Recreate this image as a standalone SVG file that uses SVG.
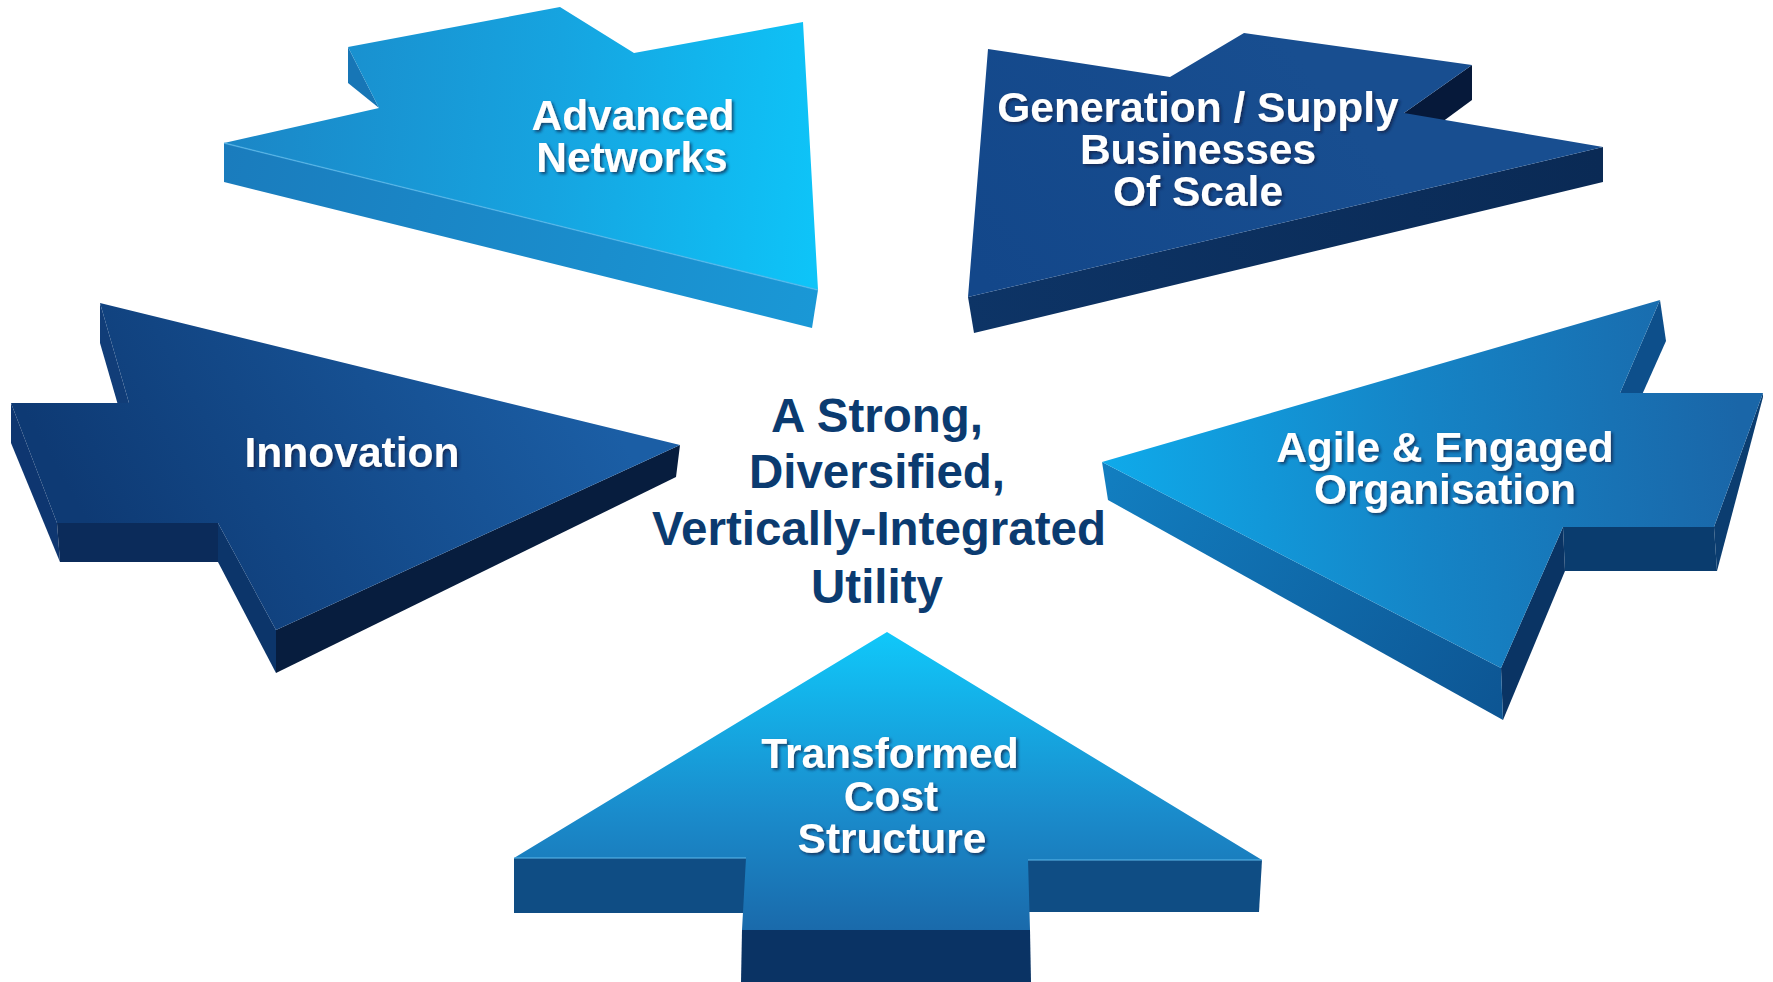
<svg xmlns="http://www.w3.org/2000/svg" width="1773" height="982" viewBox="0 0 1773 982">
<defs>
<linearGradient id="gAdv" gradientUnits="userSpaceOnUse" x1="224" y1="150" x2="818" y2="200">
<stop offset="0" stop-color="#1b86c6"/><stop offset="0.55" stop-color="#16a4e0"/><stop offset="1" stop-color="#0ec4f8"/>
</linearGradient>
<linearGradient id="gAdvSide" gradientUnits="userSpaceOnUse" x1="224" y1="160" x2="818" y2="310">
<stop offset="0" stop-color="#1a7cbd"/><stop offset="1" stop-color="#1a98d6"/>
</linearGradient>
<linearGradient id="gInno" gradientUnits="userSpaceOnUse" x1="560" y1="330" x2="120" y2="580">
<stop offset="0" stop-color="#1b5ea5"/><stop offset="1" stop-color="#0e3a74"/>
</linearGradient>
<linearGradient id="gGen" gradientUnits="userSpaceOnUse" x1="1300" y1="60" x2="1000" y2="300">
<stop offset="0" stop-color="#184e90"/><stop offset="1" stop-color="#13478a"/>
</linearGradient>
<linearGradient id="gGenSide" gradientUnits="userSpaceOnUse" x1="970" y1="320" x2="1600" y2="160">
<stop offset="0" stop-color="#0d3466"/><stop offset="1" stop-color="#0a2a55"/>
</linearGradient>
<linearGradient id="gAgile" gradientUnits="userSpaceOnUse" x1="1102" y1="462" x2="1740" y2="420">
<stop offset="0" stop-color="#0faaea"/><stop offset="0.5" stop-color="#1584c6"/><stop offset="1" stop-color="#1a66a8"/>
</linearGradient>
<linearGradient id="gAgileSide" gradientUnits="userSpaceOnUse" x1="1102" y1="480" x2="1503" y2="700">
<stop offset="0" stop-color="#127ec0"/><stop offset="1" stop-color="#0d5694"/>
</linearGradient>
<linearGradient id="gTrans" gradientUnits="userSpaceOnUse" x1="0" y1="632" x2="0" y2="930">
<stop offset="0" stop-color="#10c8fa"/><stop offset="0.6" stop-color="#1a8ccc"/><stop offset="1" stop-color="#1a6aab"/>
</linearGradient>
<filter id="sh" x="-10%" y="-20%" width="120%" height="150%">
<feDropShadow dx="2" dy="2" stdDeviation="1.8" flood-color="#0a1e40" flood-opacity="0.7"/>
</filter>
</defs>
<style>
.lbl{font-family:"Liberation Sans",Arial,sans-serif;font-weight:bold;font-size:42.5px;fill:#ffffff;text-anchor:middle;filter:url(#sh)}
.ctr{font-family:"Liberation Sans",Arial,sans-serif;font-weight:bold;font-size:47.5px;fill:#0b3b70;text-anchor:middle}
.hl{fill:none;stroke:#5ab8ea;stroke-width:1.5;stroke-opacity:0.7}
</style>
<rect width="1773" height="982" fill="#ffffff"/>
<g id="connectors"/>

<g id="advanced-networks">
<polygon points="348,47 379,108 348,83" fill="#1776b6"/>
<polygon points="224,143 818,290 812,328 224,182" fill="url(#gAdvSide)"/>
<polygon points="348,47 560,7 634,53 803,22 818,290 224,143 379,108" fill="url(#gAdv)"/>
<polyline class="hl" points="224,143 818,290"/>
<text class="lbl" x="633" y="130">Advanced</text>
<text class="lbl" x="632" y="172">Networks</text>
</g>

<g id="innovation">
<polygon points="100,303 129,403 129,443 100,343" fill="#113d78"/>
<polygon points="11,403 57,523 60,562 11,443" fill="#0e3670"/>
<polygon points="57,523 218,523 218,562 60,562" fill="#0b2b5a"/>
<polygon points="218,523 276,630 276,673 218,562" fill="#0c356a"/>
<polygon points="276,630 680,445 676,477 276,673" fill="#071d3e"/>
<polygon points="100,303 680,445 276,630 218,523 57,523 11,403 129,403" fill="url(#gInno)"/>
<text class="lbl" x="352" y="467">Innovation</text>
</g>

<g id="generation-supply">
<polygon points="1472,65 1404,113 1404,150 1472,100" fill="#06193a"/>
<polygon points="968,297 1603,147 1603,182 974,333" fill="url(#gGenSide)"/>
<polygon points="988,49 1170,77 1244,33 1472,65 1404,113 1603,147 968,297" fill="url(#gGen)"/>
<text class="lbl" x="1198" y="122">Generation / Supply</text>
<text class="lbl" x="1198" y="164">Businesses</text>
<text class="lbl" x="1198" y="206">Of Scale</text>
</g>

<g id="agile-engaged">
<polygon points="1660,300 1666,341 1625,433 1620,393" fill="#0d4f8b"/>
<polygon points="1763,393 1714,527 1717,571 1763,397" fill="#0b3d70"/>
<polygon points="1563,527 1714,527 1717,571 1565,571" fill="#0a3c6e"/>
<polygon points="1563,527 1501,668 1503,720 1565,571" fill="#0a3464"/>
<polygon points="1102,462 1501,668 1503,720 1108,500" fill="url(#gAgileSide)"/>
<polygon points="1660,300 1102,462 1501,668 1563,527 1714,527 1763,393 1620,393" fill="url(#gAgile)"/>
<text class="lbl" x="1445" y="462">Agile &amp; Engaged</text>
<text class="lbl" x="1445" y="504">Organisation</text>
</g>

<g id="transformed-cost">
<polygon points="514,858 746,858 746,913 514,913" fill="#0f4d84"/>
<polygon points="1028,860 1262,860 1259,912 1028,912" fill="#0f4d84"/>
<polygon points="742,930 1030,930 1031,982 741,982" fill="#0a3364"/>
<polygon points="887,632 1262,860 1028,860 1030,930 742,930 746,858 514,858" fill="url(#gTrans)"/>
<polyline class="hl" points="514,858 746,858"/>
<polyline class="hl" points="1028,860 1262,860"/>
<text class="lbl" x="890" y="768">Transformed</text>
<text class="lbl" x="891" y="811">Cost</text>
<text class="lbl" x="892" y="853">Structure</text>
</g>

<g id="center">
<text class="ctr" x="877" y="432">A Strong,</text>
<text class="ctr" x="877" y="488">Diversified,</text>
<text class="ctr" x="879" y="545">Vertically-Integrated</text>
<text class="ctr" x="877" y="603">Utility</text>
</g>
</svg>
